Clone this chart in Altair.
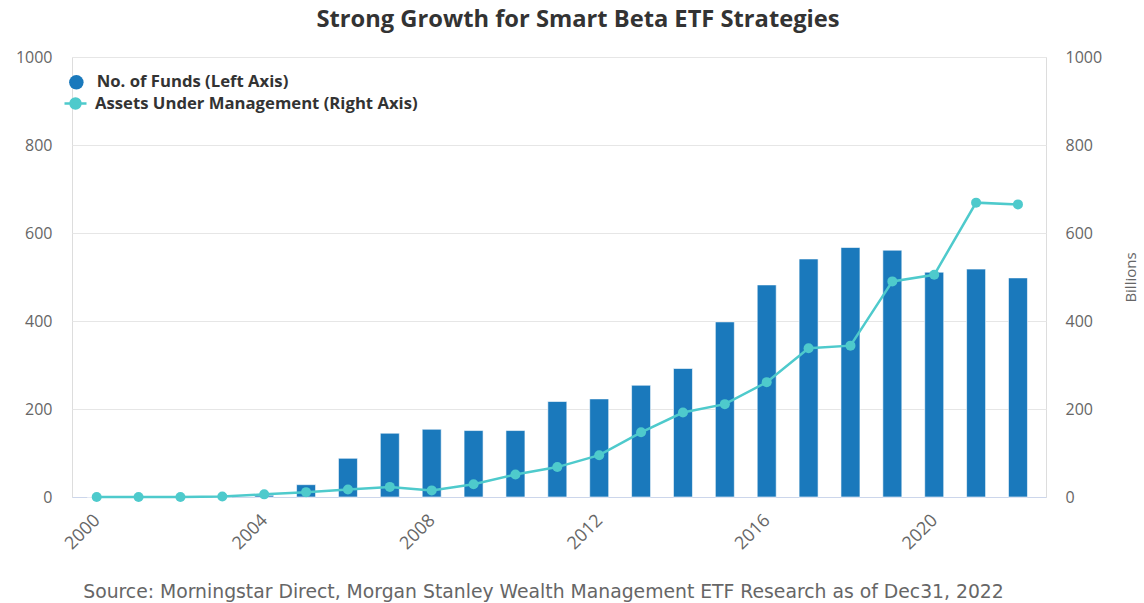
import altair as alt
import pandas as pd

years = list(range(2000, 2023))
funds = [0, 0, 0, 0, 4, 28, 88, 145, 154, 151, 151, 217, 223, 254, 292, 398, 482, 541, 567, 561, 511, 518, 498]
aum = [0, 0, 0, 1, 6, 11, 17, 23, 15, 29, 51, 68, 95, 147, 192, 211, 261, 338, 344, 490, 505, 669, 665]
x_ticks = [2000, 2004, 2008, 2012, 2016, 2020]
y_ticks = [0, 200, 400, 600, 800, 1000]

FUNDS_LABEL = "No. of Funds (Left Axis)"
AUM_LABEL = "Assets Under Management (Right Axis)"
BLUE = "#1a79bc"
TEAL = "#4ecacc"
GRAY = "#666666"
FONT = "Open Sans"

df = pd.DataFrame({
    "year": years,
    "funds": funds,
    "aum": aum,
    "s1": FUNDS_LABEL,
    "s2": AUM_LABEL,
})

xscale = alt.Scale(domain=[1999.53, 2022.55], nice=False, zero=False)
xaxis = alt.Axis(
    values=x_ticks, format="d", labelAngle=-45, labelFontSize=18, labelColor=GRAY,
    labelFont=FONT, ticks=False, grid=False, domainColor="#ccd6eb", labelPadding=14,
    labelOffset=-6,
    title="Source: Morningstar Direct, Morgan Stanley Wealth Management ETF Research as of Dec31, 2022",
    titleFontSize=18.8, titleFont="DejaVu Sans", titleFontWeight="normal", titleColor=GRAY,
    titleX=471, titleY=100, titleAlign="center", titleBaseline="alphabetic",
)

bars = alt.Chart(df).mark_bar(width=19, stroke="#ffffff", strokeWidth=1, strokeOpacity=0.6).encode(
    x=alt.X("year:Q", scale=xscale, axis=xaxis),
    y=alt.Y("funds:Q", scale=alt.Scale(domain=[0, 1000], nice=False),
            axis=alt.Axis(values=y_ticks, format="d", orient="left", title=None, labelFontSize=16,
                          labelColor=GRAY, labelFont=FONT, ticks=False, domain=False,
                          labelPadding=20, gridColor="#e6e6e6", grid=True)),
    fill=alt.Fill("s1:N", scale=alt.Scale(domain=[FUNDS_LABEL], range=[BLUE]),
                  legend=alt.Legend(title=None, orient="none", legendX=-4, legendY=17,
                                    symbolType="circle", symbolSize=210, labelFontSize=16.7,
                                    labelFont=FONT, labelFontWeight="bold", labelColor="#333333",
                                    labelOffset=12, labelLimit=600, padding=0, symbolStrokeWidth=0)),
)

line = alt.Chart(df).mark_line(
    strokeWidth=2.5,
    point=alt.OverlayMarkDef(filled=True, fill=TEAL, size=100, strokeWidth=0),
).encode(
    x=alt.X("year:Q", scale=xscale),
    y=alt.Y("aum:Q", scale=alt.Scale(domain=[0, 1000], nice=False),
            axis=alt.Axis(values=y_ticks, format="d", orient="right", title="Billions", titleAngle=270,
                          titleFontSize=15, titleFont=FONT, titleFontWeight="normal",
                          titleColor=GRAY, titlePadding=37, labelFontSize=16, labelColor=GRAY,
                          labelFont=FONT, ticks=False, domain=False, labelPadding=19, grid=False)),
    stroke=alt.Stroke("s2:N", scale=alt.Scale(domain=[AUM_LABEL], range=[TEAL]),
                      legend=alt.Legend(title=None, orient="none", legendX=-9, legendY=34,
                                        symbolType="M-1,0L1,0M0.45,0A0.45,0.45 0 1,1 -0.45,0A0.45,0.45 0 1,1 0.45,0Z",
                                        symbolSize=484, symbolStrokeWidth=2.5, symbolFillColor=TEAL,
                                        labelFontSize=16.7, labelFont=FONT, labelFontWeight="bold",
                                        labelColor="#333333", labelOffset=7, labelLimit=600, padding=0)),
)

chart = alt.layer(bars, line).resolve_scale(y="independent", fill="independent", stroke="independent").properties(
    width=974,
    height=440,
    autosize=alt.AutoSizeParams(type="none"),
    padding={"left": 72, "top": 57, "right": 98, "bottom": 106},
    title=alt.Title("Strong Growth for Smart Beta ETF Strategies", fontSize=23.7, font=FONT,
                    fontWeight="bold", color="#333333", anchor="middle", dx=19, offset=17),
).configure_view(stroke=None).configure(background="#ffffff")

chart.save("out.html", embed_options={"renderer": "svg", "actions": False})
